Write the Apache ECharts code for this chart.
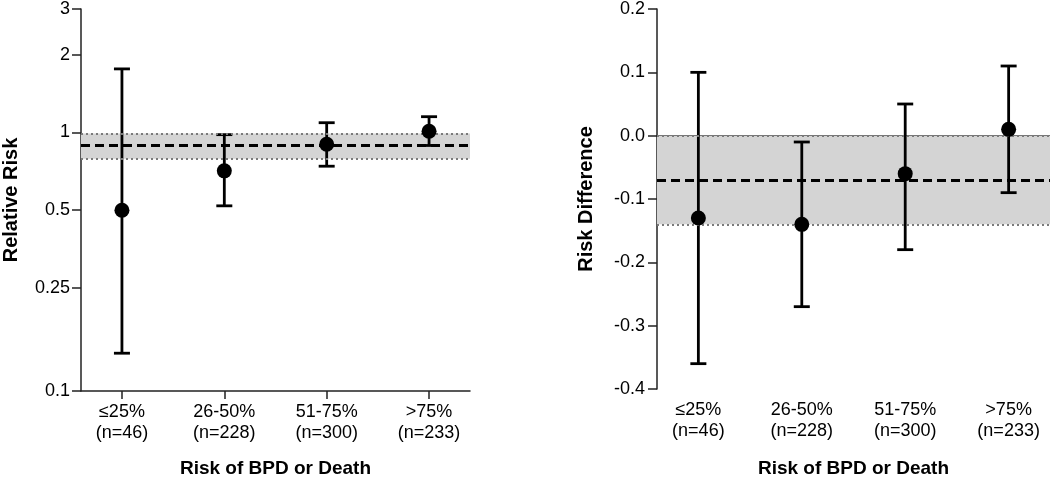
<!DOCTYPE html>
<html>
<head>
<meta charset="utf-8">
<script src="https://cdn.jsdelivr.net/npm/echarts@6/dist/echarts.min.js"></script>
<style>
html,body{margin:0;padding:0;background:#fff;}
#chart{width:1050px;height:483px;}
</style>
</head>
<body>
<div id="chart"></div>
<script>
// ---- data ----
const groups = ['≤25%', '26-50%', '51-75%', '>75%'];
const counts = [46, 228, 300, 233];
const xPos = [1, 2, 3, 4];

// Relative risk (left panel)
const rrPoint = [0.50, 0.71, 0.90, 1.01];
const rrLow   = [0.14, 0.52, 0.74, 0.89];
const rrHigh  = [1.76, 0.98, 1.09, 1.15];
const rrPooled = 0.89;
const rrBand = [0.79, 0.99];
const rrTicks = [0.1, 0.25, 0.5, 1, 2, 3];

// Risk difference (right panel)
const rdPoint = [-0.13, -0.14, -0.06, 0.01];
const rdLow   = [-0.36, -0.27, -0.18, -0.09];
const rdHigh  = [0.10, -0.01, 0.05, 0.11];
const rdPooled = -0.07;
const rdBand = [-0.14, 0.0];

const yNames = ['Relative Risk', 'Risk Difference'];
const xName = 'Risk of BPD or Death';

// ---- chart ----
const FONT = "'Liberation Sans', Arial, sans-serif";
const chart = echarts.init(document.getElementById('chart'), null, {renderer: 'canvas'});

function errorBarSeries(axisIdx, low, high) {
  return {
    type: 'custom',
    xAxisIndex: axisIdx, yAxisIndex: axisIdx,
    z: 3,
    clip: false,
    data: xPos.map((x, i) => [x, low[i], high[i]]),
    renderItem: function (params, api) {
      const x = api.value(0);
      const top = api.coord([x, api.value(2)]);
      const bot = api.coord([x, api.value(1)]);
      const hw = 8;
      const st = {stroke: '#000', lineWidth: 2.8, fill: null};
      return {
        type: 'group',
        children: [
          {type: 'line', shape: {x1: top[0], y1: top[1], x2: bot[0], y2: bot[1]}, style: st},
          {type: 'line', shape: {x1: top[0] - hw, y1: top[1], x2: top[0] + hw, y2: top[1]}, style: st},
          {type: 'line', shape: {x1: bot[0] - hw, y1: bot[1], x2: bot[0] + hw, y2: bot[1]}, style: st}
        ]
      };
    }
  };
}

function pointSeries(axisIdx, pts) {
  return {
    type: 'scatter',
    xAxisIndex: axisIdx, yAxisIndex: axisIdx,
    z: 5,
    symbol: 'circle',
    symbolSize: 15,
    itemStyle: {color: '#000', opacity: 1},
    data: xPos.map((x, i) => [x, pts[i]]),
    silent: true
  };
}

function bandSeries(axisIdx, band, pooled) {
  return {
    type: 'line',
    xAxisIndex: axisIdx, yAxisIndex: axisIdx,
    z: 1,
    data: [],
    silent: true,
    markArea: {
      silent: true,
      itemStyle: {color: '#d4d4d4'},
      data: [[{yAxis: band[0]}, {yAxis: band[1]}]]
    },
    markLine: {
      silent: true,
      symbol: ['none', 'none'],
      label: {show: false},
      data: [
        {yAxis: band[0], lineStyle: {color: '#7a7a7a', type: [2, 3], width: 2}},
        {yAxis: band[1], lineStyle: {color: '#7a7a7a', type: [2, 3], width: 2}},
        {yAxis: pooled, lineStyle: {color: '#000', type: [9, 5], width: 2.8}}
      ]
    }
  };
}

const axisLineStyle = {color: '#222', width: 1.5};

function xAxisDef(gridIndex) {
  return {
    type: 'value',
    gridIndex: gridIndex,
    min: 0.6, max: 4.4,
    splitLine: {show: false},
    axisLine: {show: true, lineStyle: axisLineStyle},
    axisTick: {show: true, length: 8, lineStyle: axisLineStyle, customValues: xPos},
    axisLabel: {
      customValues: xPos,
      margin: 11,
      fontFamily: FONT, fontSize: 18, color: '#000', lineHeight: 21,
      formatter: function (v) {
        const i = Math.round(v) - 1;
        return groups[i] + '\n(n=' + counts[i] + ')';
      }
    },
    name: xName,
    nameLocation: 'middle',
    nameGap: gridIndex === 0 ? 68 : 70,
    nameTextStyle: {fontFamily: FONT, fontSize: 19, fontWeight: 'bold', color: '#000'}
  };
}

const option = {
  backgroundColor: '#fff',
  animation: false,
  grid: [
    {left: 81, top: 7, width: 389, height: 388},
    {left: 657, top: 7, width: 393, height: 390}
  ],
  xAxis: [xAxisDef(0), xAxisDef(1)],
  yAxis: [
    {
      type: 'log', logBase: 10, gridIndex: 0,
      min: 0.1, max: 3,
      splitLine: {show: false},
      axisLine: {show: true, lineStyle: axisLineStyle},
      axisTick: {show: true, length: 9, lineStyle: axisLineStyle, customValues: rrTicks},
      axisLabel: {
        customValues: rrTicks,
        margin: 11,
        fontFamily: FONT, fontSize: 18, color: '#000',
        formatter: function (v) { return String(+(+v).toPrecision(3)); }
      },
      name: yNames[0], nameLocation: 'middle', nameGap: 60,
      nameTextStyle: {fontFamily: FONT, fontSize: 20, fontWeight: 'bold', color: '#000'}
    },
    {
      type: 'value', gridIndex: 1,
      min: -0.4, max: 0.2, interval: 0.1,
      splitLine: {show: false},
      axisLine: {show: true, lineStyle: axisLineStyle},
      axisTick: {show: true, length: 9, lineStyle: axisLineStyle},
      axisLabel: {
        margin: 12,
        fontFamily: FONT, fontSize: 18, color: '#000',
        formatter: function (v) { return (Math.round(v * 10) / 10).toFixed(1); }
      },
      name: yNames[1], nameLocation: 'middle', nameGap: 61,
      nameTextStyle: {fontFamily: FONT, fontSize: 20, fontWeight: 'bold', color: '#000'}
    }
  ],
  series: [
    bandSeries(0, rrBand, rrPooled),
    errorBarSeries(0, rrLow, rrHigh),
    pointSeries(0, rrPoint),
    bandSeries(1, rdBand, rdPooled),
    errorBarSeries(1, rdLow, rdHigh),
    pointSeries(1, rdPoint)
  ]
};
chart.setOption(option);
</script>
</body>
</html>
